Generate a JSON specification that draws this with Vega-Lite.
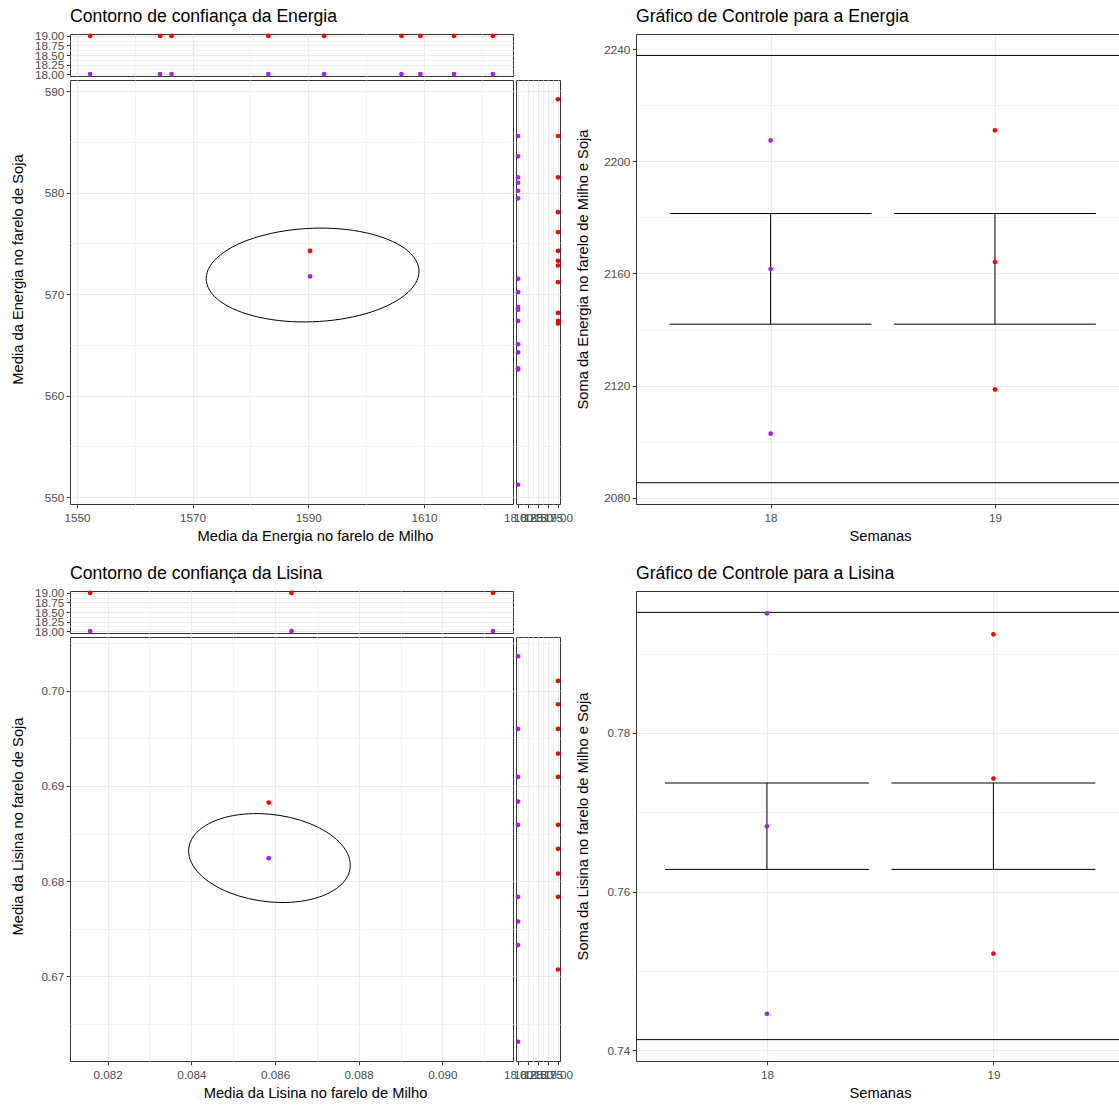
{
"$schema": "https://vega.github.io/schema/vega-lite/v6.json",
"padding": {"left": 9, "top": 7, "right": 0, "bottom": 0},
"background": "white",
"bounds": "full",
"spacing": 1,
"hconcat": [
 {"vconcat": [
  {"vconcat": [
   {"width": 443, "height": 42,
    "title": {"text": "Contorno de confiança da Energia", "offset": 5},
    "data": {"name": "e_milho"},
    "mark": {"type": "circle", "size": 22, "opacity": 1},
    "encoding": {
     "x": {"field": "valor", "type": "quantitative", "scale": {"domain": [1548.8, 1625.4], "nice": false, "zero": false},
      "axis": {"values": [1550,1560,1570,1580,1590,1600,1610,1620], "labels": false, "ticks": false, "title": null,
       "gridColor": {"condition": {"test": "(datum.value - 1550) % 20 === 0", "value": "#EBEBEB"}, "value": "#F3F3F3"}}},
     "y": {"field": "semana", "type": "quantitative", "scale": {"domain": [17.95, 19.05], "nice": false, "zero": false},
      "axis": {"values": [18,18.125,18.25,18.375,18.5,18.625,18.75,18.875,19], "format": ".2f", "title": null,
       "labelExpr": "round(datum.value * 8) % 2 === 0 ? datum.label : ''",
       "tickOpacity": {"condition": {"test": "round(datum.value * 8) % 2 === 0", "value": 1}, "value": 0},
       "gridColor": {"condition": {"test": "round(datum.value * 8) % 2 === 0", "value": "#EBEBEB"}, "value": "#F3F3F3"}}},
     "color": {"field": "semana", "type": "nominal", "scale": {"domain": [18, 19], "range": ["#A020F0", "#FF0000"]}, "legend": null}
    }},
   {"hconcat": [
    {"width": 443, "height": 424,
     "layer": [
      {"data": {"name": "e_elipse"},
       "mark": {"type": "line", "interpolate": "cardinal-closed", "color": "#000000", "strokeWidth": 1},
       "encoding": {
        "x": {"field": "milho", "type": "quantitative", "scale": {"domain": [1548.8, 1625.4], "nice": false, "zero": false},
         "axis": {"values": [1550,1560,1570,1580,1590,1600,1610,1620], "format": "d", "labelPadding": 5,
          "labelExpr": "(datum.value - 1550) % 20 === 0 ? datum.label : ''",
          "tickOpacity": {"condition": {"test": "(datum.value - 1550) % 20 === 0", "value": 1}, "value": 0},
          "gridColor": {"condition": {"test": "(datum.value - 1550) % 20 === 0", "value": "#EBEBEB"}, "value": "#F3F3F3"},
          "title": "Media da Energia no farelo de Milho", "titleX": 245, "titlePadding": 4.5}},
        "y": {"field": "soja", "type": "quantitative", "scale": {"domain": [549.31, 591.12], "nice": false, "zero": false},
         "axis": {"values": [550,555,560,565,570,575,580,585,590], "format": "d",
          "labelExpr": "datum.value % 10 === 0 ? datum.label : ''",
          "tickOpacity": {"condition": {"test": "datum.value % 10 === 0", "value": 1}, "value": 0},
          "gridColor": {"condition": {"test": "datum.value % 10 === 0", "value": "#EBEBEB"}, "value": "#F3F3F3"},
          "title": "Media da Energia no farelo de Soja", "titleX": -45, "titleY": 189}},
        "order": {"field": "i", "type": "quantitative"}
       }},
      {"data": {"name": "e_media"},
       "mark": {"type": "circle", "size": 22, "opacity": 1},
       "encoding": {
        "x": {"field": "milho", "type": "quantitative", "scale": {"domain": [1548.8, 1625.4], "nice": false, "zero": false}},
        "y": {"field": "soja", "type": "quantitative", "scale": {"domain": [549.31, 591.12], "nice": false, "zero": false}},
        "color": {"field": "semana", "type": "nominal", "scale": {"domain": [18, 19], "range": ["#A020F0", "#FF0000"]}, "legend": null}
       }}
     ]},
    {"width": 44, "height": 424,
     "data": {"name": "e_soja"},
     "mark": {"type": "circle", "size": 22, "opacity": 1},
     "encoding": {
      "x": {"field": "semana", "type": "quantitative", "scale": {"domain": [17.95, 19.05], "nice": false, "zero": false},
       "axis": {"values": [18,18.125,18.25,18.375,18.5,18.625,18.75,18.875,19], "format": ".2f", "title": null, "labelPadding": 5,
        "labelExpr": "round(datum.value * 8) % 2 === 0 ? datum.label : ''",
        "tickOpacity": {"condition": {"test": "round(datum.value * 8) % 2 === 0", "value": 1}, "value": 0},
        "gridColor": {"condition": {"test": "round(datum.value * 8) % 2 === 0", "value": "#EBEBEB"}, "value": "#F3F3F3"}}},
      "y": {"field": "valor", "type": "quantitative", "scale": {"domain": [549.31, 591.12], "nice": false, "zero": false},
       "axis": {"values": [550,555,560,565,570,575,580,585,590], "labels": false, "ticks": false, "title": null,
        "gridColor": {"condition": {"test": "datum.value % 10 === 0", "value": "#EBEBEB"}, "value": "#F3F3F3"}}},
      "color": {"field": "semana", "type": "nominal", "scale": {"domain": [18, 19], "range": ["#A020F0", "#FF0000"]}, "legend": null}
     }}
   ], "spacing": 3, "bounds": "flush"}
  ], "spacing": 4, "bounds": "flush"},
  {"vconcat": [
   {"width": 443, "height": 42,
    "title": {"text": "Contorno de confiança da Lisina", "offset": 5},
    "data": {"name": "l_milho"},
    "mark": {"type": "circle", "size": 22, "opacity": 1},
    "encoding": {
     "x": {"field": "valor", "type": "quantitative", "scale": {"domain": [0.081101, 0.091687], "nice": false, "zero": false},
      "axis": {"values": [0.082,0.083,0.084,0.085,0.086,0.087,0.088,0.089,0.09,0.091], "labels": false, "ticks": false, "title": null,
       "gridColor": {"condition": {"test": "round(datum.value * 1000) % 2 === 0", "value": "#EBEBEB"}, "value": "#F3F3F3"}}},
     "y": {"field": "semana", "type": "quantitative", "scale": {"domain": [17.95, 19.05], "nice": false, "zero": false},
      "axis": {"values": [18,18.125,18.25,18.375,18.5,18.625,18.75,18.875,19], "format": ".2f", "title": null,
       "labelExpr": "round(datum.value * 8) % 2 === 0 ? datum.label : ''",
       "tickOpacity": {"condition": {"test": "round(datum.value * 8) % 2 === 0", "value": 1}, "value": 0},
       "gridColor": {"condition": {"test": "round(datum.value * 8) % 2 === 0", "value": "#EBEBEB"}, "value": "#F3F3F3"}}},
     "color": {"field": "semana", "type": "nominal", "scale": {"domain": [18, 19], "range": ["#A020F0", "#FF0000"]}, "legend": null}
    }},
   {"hconcat": [
    {"width": 443, "height": 424,
     "layer": [
      {"data": {"name": "l_elipse"},
       "mark": {"type": "line", "interpolate": "cardinal-closed", "color": "#000000", "strokeWidth": 1},
       "encoding": {
        "x": {"field": "milho", "type": "quantitative", "scale": {"domain": [0.081101, 0.091687], "nice": false, "zero": false},
         "axis": {"values": [0.082,0.083,0.084,0.085,0.086,0.087,0.088,0.089,0.09,0.091], "format": ".3f", "labelPadding": 5,
          "labelExpr": "round(datum.value * 1000) % 2 === 0 ? datum.label : ''",
          "tickOpacity": {"condition": {"test": "round(datum.value * 1000) % 2 === 0", "value": 1}, "value": 0},
          "gridColor": {"condition": {"test": "round(datum.value * 1000) % 2 === 0", "value": "#EBEBEB"}, "value": "#F3F3F3"},
          "title": "Media da Lisina no farelo de Milho", "titleX": 245, "titlePadding": 4.5}},
        "y": {"field": "soja", "type": "quantitative", "scale": {"domain": [0.661094, 0.70566], "nice": false, "zero": false},
         "axis": {"values": [0.665,0.67,0.675,0.68,0.685,0.69,0.695,0.7,0.705], "format": ".2f",
          "labelExpr": "round(datum.value * 1000) % 10 === 0 ? datum.label : ''",
          "tickOpacity": {"condition": {"test": "round(datum.value * 1000) % 10 === 0", "value": 1}, "value": 0},
          "gridColor": {"condition": {"test": "round(datum.value * 1000) % 10 === 0", "value": "#EBEBEB"}, "value": "#F3F3F3"},
          "title": "Media da Lisina no farelo de Soja", "titleX": -45, "titleY": 189}},
        "order": {"field": "i", "type": "quantitative"}
       }},
      {"data": {"name": "l_media"},
       "mark": {"type": "circle", "size": 22, "opacity": 1},
       "encoding": {
        "x": {"field": "milho", "type": "quantitative", "scale": {"domain": [0.081101, 0.091687], "nice": false, "zero": false}},
        "y": {"field": "soja", "type": "quantitative", "scale": {"domain": [0.661094, 0.70566], "nice": false, "zero": false}},
        "color": {"field": "semana", "type": "nominal", "scale": {"domain": [18, 19], "range": ["#A020F0", "#FF0000"]}, "legend": null}
       }}
     ]},
    {"width": 44, "height": 424,
     "data": {"name": "l_soja"},
     "mark": {"type": "circle", "size": 22, "opacity": 1},
     "encoding": {
      "x": {"field": "semana", "type": "quantitative", "scale": {"domain": [17.95, 19.05], "nice": false, "zero": false},
       "axis": {"values": [18,18.125,18.25,18.375,18.5,18.625,18.75,18.875,19], "format": ".2f", "title": null, "labelPadding": 5,
        "labelExpr": "round(datum.value * 8) % 2 === 0 ? datum.label : ''",
        "tickOpacity": {"condition": {"test": "round(datum.value * 8) % 2 === 0", "value": 1}, "value": 0},
        "gridColor": {"condition": {"test": "round(datum.value * 8) % 2 === 0", "value": "#EBEBEB"}, "value": "#F3F3F3"}}},
      "y": {"field": "valor", "type": "quantitative", "scale": {"domain": [0.661094, 0.70566], "nice": false, "zero": false},
       "axis": {"values": [0.665,0.67,0.675,0.68,0.685,0.69,0.695,0.7,0.705], "labels": false, "ticks": false, "title": null,
        "gridColor": {"condition": {"test": "round(datum.value * 1000) % 10 === 0", "value": "#EBEBEB"}, "value": "#F3F3F3"}}},
      "color": {"field": "semana", "type": "nominal", "scale": {"domain": [18, 19], "range": ["#A020F0", "#FF0000"]}, "legend": null}
     }}
   ], "spacing": 3, "bounds": "flush"}
  ], "spacing": 4, "bounds": "flush"}
 ], "spacing": 19, "bounds": "full"},
 {"vconcat": [
  {"width": 483, "height": 470,
   "title": "Gráfico de Controle para a Energia",
   "view": {"stroke": null},
   "layer": [
    {"data": {"name": "e_lim"},
     "mark": {"type": "rule", "color": "#000000", "strokeWidth": 1},
     "encoding": {
      "y": {"field": "valor", "type": "quantitative", "scale": {"domain": [2077.7, 2245.5], "nice": false, "zero": false},
       "axis": {"values": [2080,2100,2120,2140,2160,2180,2200,2220,2240], "format": "d",
        "labelExpr": "datum.value % 40 === 0 ? datum.label : ''",
        "tickOpacity": {"condition": {"test": "datum.value % 40 === 0", "value": 1}, "value": 0},
        "gridColor": {"condition": {"test": "datum.value % 40 === 0", "value": "#EBEBEB"}, "value": "#F3F3F3"},
        "domain": true, "domainColor": "#333333",
        "title": "Soma da Energia no farelo de Milho e Soja", "titleX": -46}}
     }},
    {"data": {"name": "e_barra"},
     "mark": {"type": "rule", "color": "#000000", "strokeWidth": 1},
     "encoding": {
      "x": {"field": "semana", "type": "quantitative", "scale": {"domain": [17.4, 19.553], "nice": false, "zero": false},
       "axis": {"values": [18, 19], "format": "d", "domain": true, "domainColor": "#333333", "labelPadding": 5, "title": "Semanas", "titleX": 244, "titlePadding": 4.5}},
      "y": {"field": "lo", "type": "quantitative", "scale": {"domain": [2077.7, 2245.5], "nice": false, "zero": false}},
      "y2": {"field": "hi"}
     }},
    {"data": {"name": "e_barra"},
     "transform": [{"fold": ["lo", "hi"], "as": ["k", "v"]}, {"calculate": "datum.semana - 0.45", "as": "xa"}, {"calculate": "datum.semana + 0.45", "as": "xb"}],
     "mark": {"type": "rule", "color": "#000000", "strokeWidth": 1},
     "encoding": {
      "x": {"field": "xa", "type": "quantitative", "scale": {"domain": [17.4, 19.553], "nice": false, "zero": false}, "axis": null},
      "x2": {"field": "xb"},
      "y": {"field": "v", "type": "quantitative", "scale": {"domain": [2077.7, 2245.5], "nice": false, "zero": false}}
     }},
    {"data": {"name": "e_ctrl"},
     "mark": {"type": "circle", "size": 22, "opacity": 1},
     "encoding": {
      "x": {"field": "semana", "type": "quantitative", "scale": {"domain": [17.4, 19.553], "nice": false, "zero": false}, "axis": null},
      "y": {"field": "valor", "type": "quantitative", "scale": {"domain": [2077.7, 2245.5], "nice": false, "zero": false}},
      "color": {"field": "semana", "type": "nominal", "scale": {"domain": [18, 19], "range": ["#A020F0", "#FF0000"]}, "legend": null}
     }},
    {"data": {"name": "e_ctrl"},
     "mark": {"type": "point", "opacity": 0},
     "encoding": {
      "x": {"field": "semana", "type": "quantitative", "scale": {"domain": [17.4, 19.553], "nice": false, "zero": false},
       "axis": {"orient": "top", "labels": false, "ticks": false, "grid": false, "title": null, "domain": true, "domainColor": "#333333"}},
      "y": {"field": "valor", "type": "quantitative", "scale": {"domain": [2077.7, 2245.5], "nice": false, "zero": false}}
     }}
   ],
   "resolve": {"axis": {"x": "independent"}}},
  {"width": 483, "height": 470,
   "title": "Gráfico de Controle para a Lisina",
   "view": {"stroke": null},
   "layer": [
    {"data": {"name": "l_lim"},
     "mark": {"type": "rule", "color": "#000000", "strokeWidth": 1},
     "encoding": {
      "y": {"field": "valor", "type": "quantitative", "scale": {"domain": [0.738658, 0.797882], "nice": false, "zero": false},
       "axis": {"values": [0.74,0.75,0.76,0.77,0.78,0.79], "format": ".2f",
        "labelExpr": "round(datum.value * 100) % 2 === 0 ? datum.label : ''",
        "tickOpacity": {"condition": {"test": "round(datum.value * 100) % 2 === 0", "value": 1}, "value": 0},
        "gridColor": {"condition": {"test": "round(datum.value * 100) % 2 === 0", "value": "#EBEBEB"}, "value": "#F3F3F3"},
        "domain": true, "domainColor": "#333333",
        "title": "Soma da Lisina no farelo de Milho e Soja", "titleX": -46}}
     }},
    {"data": {"name": "l_barra"},
     "mark": {"type": "rule", "color": "#000000", "strokeWidth": 1},
     "encoding": {
      "x": {"field": "semana", "type": "quantitative", "scale": {"domain": [17.422, 19.5545], "nice": false, "zero": false},
       "axis": {"values": [18, 19], "format": "d", "domain": true, "domainColor": "#333333", "labelPadding": 5, "title": "Semanas", "titleX": 244, "titlePadding": 4.5}},
      "y": {"field": "lo", "type": "quantitative", "scale": {"domain": [0.738658, 0.797882], "nice": false, "zero": false}},
      "y2": {"field": "hi"}
     }},
    {"data": {"name": "l_barra"},
     "transform": [{"fold": ["lo", "hi"], "as": ["k", "v"]}, {"calculate": "datum.semana - 0.45", "as": "xa"}, {"calculate": "datum.semana + 0.45", "as": "xb"}],
     "mark": {"type": "rule", "color": "#000000", "strokeWidth": 1},
     "encoding": {
      "x": {"field": "xa", "type": "quantitative", "scale": {"domain": [17.422, 19.5545], "nice": false, "zero": false}, "axis": null},
      "x2": {"field": "xb"},
      "y": {"field": "v", "type": "quantitative", "scale": {"domain": [0.738658, 0.797882], "nice": false, "zero": false}}
     }},
    {"data": {"name": "l_ctrl"},
     "mark": {"type": "circle", "size": 22, "opacity": 1},
     "encoding": {
      "x": {"field": "semana", "type": "quantitative", "scale": {"domain": [17.422, 19.5545], "nice": false, "zero": false}, "axis": null},
      "y": {"field": "valor", "type": "quantitative", "scale": {"domain": [0.738658, 0.797882], "nice": false, "zero": false}},
      "color": {"field": "semana", "type": "nominal", "scale": {"domain": [18, 19], "range": ["#A020F0", "#FF0000"]}, "legend": null}
     }},
    {"data": {"name": "l_ctrl"},
     "mark": {"type": "point", "opacity": 0},
     "encoding": {
      "x": {"field": "semana", "type": "quantitative", "scale": {"domain": [17.422, 19.5545], "nice": false, "zero": false},
       "axis": {"orient": "top", "labels": false, "ticks": false, "grid": false, "title": null, "domain": true, "domainColor": "#333333"}},
      "y": {"field": "valor", "type": "quantitative", "scale": {"domain": [0.738658, 0.797882], "nice": false, "zero": false}}
     }}
   ],
   "resolve": {"axis": {"x": "independent"}}}
 ], "spacing": 87, "bounds": "flush"}
],
"datasets": {
 "e_milho": [
  {"semana": 18, "valor": 1552.28}, {"semana": 18, "valor": 1564.38}, {"semana": 18, "valor": 1566.36}, {"semana": 18, "valor": 1583.09}, {"semana": 18, "valor": 1592.72}, {"semana": 18, "valor": 1606.11}, {"semana": 18, "valor": 1609.38}, {"semana": 18, "valor": 1615.19}, {"semana": 18, "valor": 1621.91},
  {"semana": 19, "valor": 1552.28}, {"semana": 19, "valor": 1564.38}, {"semana": 19, "valor": 1566.36}, {"semana": 19, "valor": 1583.09}, {"semana": 19, "valor": 1592.72}, {"semana": 19, "valor": 1606.11}, {"semana": 19, "valor": 1609.38}, {"semana": 19, "valor": 1615.19}, {"semana": 19, "valor": 1621.91}
 ],
 "e_soja": [
  {"semana": 18, "valor": 585.60}, {"semana": 18, "valor": 583.59}, {"semana": 18, "valor": 581.52}, {"semana": 18, "valor": 580.99}, {"semana": 18, "valor": 580.20}, {"semana": 18, "valor": 579.45}, {"semana": 18, "valor": 571.51}, {"semana": 18, "valor": 570.20}, {"semana": 18, "valor": 568.72}, {"semana": 18, "valor": 568.47}, {"semana": 18, "valor": 567.36}, {"semana": 18, "valor": 565.06}, {"semana": 18, "valor": 564.27}, {"semana": 18, "valor": 562.69}, {"semana": 18, "valor": 562.57}, {"semana": 18, "valor": 551.21},
  {"semana": 19, "valor": 589.22}, {"semana": 19, "valor": 585.60}, {"semana": 19, "valor": 581.52}, {"semana": 19, "valor": 578.09}, {"semana": 19, "valor": 576.12}, {"semana": 19, "valor": 574.27}, {"semana": 19, "valor": 573.29}, {"semana": 19, "valor": 572.83}, {"semana": 19, "valor": 571.18}, {"semana": 19, "valor": 568.15}, {"semana": 19, "valor": 567.36}, {"semana": 19, "valor": 567.11}
 ],
 "e_media": [{"semana": 18, "milho": 1590.3, "soja": 571.75}, {"semana": 19, "milho": 1590.3, "soja": 574.27}],
 "e_elipse": [
  {"i": 0, "milho": 1609.15, "soja": 572.25}, {"i": 1, "milho": 1608.52, "soja": 573.43}, {"i": 2, "milho": 1606.68, "soja": 574.51}, {"i": 3, "milho": 1603.76, "soja": 575.40},
  {"i": 4, "milho": 1599.95, "soja": 576.06}, {"i": 5, "milho": 1595.51, "soja": 576.44}, {"i": 6, "milho": 1590.75, "soja": 576.50}, {"i": 7, "milho": 1585.99, "soja": 576.25},
  {"i": 8, "milho": 1581.55, "soja": 575.70}, {"i": 9, "milho": 1577.74, "soja": 574.90}, {"i": 10, "milho": 1574.82, "soja": 573.88}, {"i": 11, "milho": 1572.98, "soja": 572.74},
  {"i": 12, "milho": 1572.35, "soja": 571.53}, {"i": 13, "milho": 1572.98, "soja": 570.35}, {"i": 14, "milho": 1574.82, "soja": 569.27}, {"i": 15, "milho": 1577.74, "soja": 568.38},
  {"i": 16, "milho": 1581.55, "soja": 567.72}, {"i": 17, "milho": 1585.99, "soja": 567.34}, {"i": 18, "milho": 1590.75, "soja": 567.28}, {"i": 19, "milho": 1595.51, "soja": 567.53},
  {"i": 20, "milho": 1599.95, "soja": 568.08}, {"i": 21, "milho": 1603.76, "soja": 568.89}, {"i": 22, "milho": 1606.68, "soja": 569.90}, {"i": 23, "milho": 1608.52, "soja": 571.05}
 ],
 "e_ctrl": [{"semana": 18, "valor": 2207.5}, {"semana": 18, "valor": 2161.6}, {"semana": 18, "valor": 2102.8}, {"semana": 19, "valor": 2211.1}, {"semana": 19, "valor": 2164.1}, {"semana": 19, "valor": 2118.6}],
 "e_barra": [{"semana": 18, "lo": 2141.9, "hi": 2181.4}, {"semana": 19, "lo": 2141.9, "hi": 2181.4}],
 "e_lim": [{"valor": 2237.85}, {"valor": 2085.3}],
 "l_milho": [
  {"semana": 18, "valor": 0.081582}, {"semana": 18, "valor": 0.086394}, {"semana": 18, "valor": 0.091206},
  {"semana": 19, "valor": 0.081582}, {"semana": 19, "valor": 0.086394}, {"semana": 19, "valor": 0.091206}
 ],
 "l_soja": [
  {"semana": 18, "valor": 0.703634}, {"semana": 18, "valor": 0.695998}, {"semana": 18, "valor": 0.690956}, {"semana": 18, "valor": 0.688361}, {"semana": 18, "valor": 0.685914}, {"semana": 18, "valor": 0.678351}, {"semana": 18, "valor": 0.675756}, {"semana": 18, "valor": 0.673277}, {"semana": 18, "valor": 0.663120},
  {"semana": 19, "valor": 0.701040}, {"semana": 19, "valor": 0.698592}, {"semana": 19, "valor": 0.695998}, {"semana": 19, "valor": 0.693403}, {"semana": 19, "valor": 0.690956}, {"semana": 19, "valor": 0.685914}, {"semana": 19, "valor": 0.683393}, {"semana": 19, "valor": 0.680798}, {"semana": 19, "valor": 0.678351}, {"semana": 19, "valor": 0.670714}
 ],
 "l_media": [{"semana": 18, "milho": 0.08585, "soja": 0.682416}, {"semana": 19, "milho": 0.08585, "soja": 0.688256}],
 "l_elipse": [
  {"i": 0, "milho": 0.087798, "soja": 0.681673}, {"i": 1, "milho": 0.087733, "soja": 0.682893}, {"i": 2, "milho": 0.087540, "soja": 0.684081}, {"i": 3, "milho": 0.087233, "soja": 0.685156},
  {"i": 4, "milho": 0.086833, "soja": 0.686044}, {"i": 5, "milho": 0.086367, "soja": 0.686687}, {"i": 6, "milho": 0.085867, "soja": 0.687039}, {"i": 7, "milho": 0.085367, "soja": 0.687077},
  {"i": 8, "milho": 0.084901, "soja": 0.686798}, {"i": 9, "milho": 0.084501, "soja": 0.686220}, {"i": 10, "milho": 0.084194, "soja": 0.685385}, {"i": 11, "milho": 0.084002, "soja": 0.684347},
  {"i": 12, "milho": 0.083936, "soja": 0.683179}, {"i": 13, "milho": 0.084002, "soja": 0.681959}, {"i": 14, "milho": 0.084194, "soja": 0.680771}, {"i": 15, "milho": 0.084501, "soja": 0.679696},
  {"i": 16, "milho": 0.084901, "soja": 0.678808}, {"i": 17, "milho": 0.085367, "soja": 0.678165}, {"i": 18, "milho": 0.085867, "soja": 0.677813}, {"i": 19, "milho": 0.086367, "soja": 0.677775},
  {"i": 20, "milho": 0.086833, "soja": 0.678054}, {"i": 21, "milho": 0.087233, "soja": 0.678632}, {"i": 22, "milho": 0.087540, "soja": 0.679467}, {"i": 23, "milho": 0.087733, "soja": 0.680505}
 ],
 "l_ctrl": [{"semana": 18, "valor": 0.79507}, {"semana": 18, "valor": 0.76823}, {"semana": 18, "valor": 0.74461}, {"semana": 19, "valor": 0.79242}, {"semana": 19, "valor": 0.77425}, {"semana": 19, "valor": 0.75218}],
 "l_barra": [{"semana": 18, "lo": 0.7628, "hi": 0.77369}, {"semana": 19, "lo": 0.7628, "hi": 0.77369}],
 "l_lim": [{"valor": 0.79519}, {"valor": 0.74135}]
},
"config": {
 "font": "Liberation Sans",
 "view": {"stroke": "#333333", "strokeWidth": 1},
 "axis": {
  "labelFont": "Liberation Sans", "labelFontSize": 11.7, "labelColor": "#4D4D4D",
  "titleFont": "Liberation Sans", "titleFontSize": 14.7, "titleFontWeight": "normal", "titleColor": "#000000",
  "tickColor": "#333333", "tickSize": 3.7, "tickWidth": 1,
  "labelPadding": 2.5, "labelOverlap": false, "labelFlush": false,
  "domain": false, "gridColor": "#EBEBEB", "gridWidth": 1.1
 },
 "title": {"font": "Liberation Sans", "fontSize": 17.6, "fontWeight": "normal", "color": "#000000", "anchor": "start", "frame": "group", "offset": 8}
}
}
